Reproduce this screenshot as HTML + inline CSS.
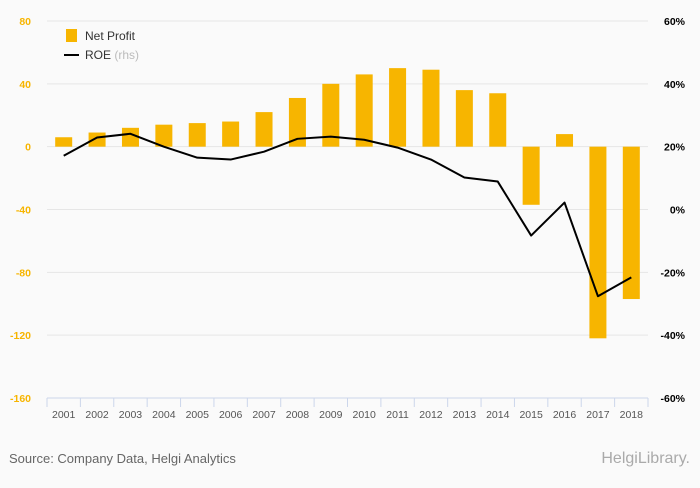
<!DOCTYPE html>
<html><head><meta charset="utf-8"><style>
body{margin:0;background:#fafafa;font-family:"Liberation Sans",sans-serif;}
svg text{font-family:"Liberation Sans",sans-serif;}
</style></head><body>
<svg width="700" height="483" id="chart">
<rect width="700" height="483" fill="#fafafa"/>
<g id="grid"></g>
<g id="bars"></g>
<g id="line"></g>
<g id="axes"></g>
<g>
<rect x="66" y="29" width="11" height="13" fill="#f7b500"/>
<text x="85" y="40" font-size="12" fill="#333">Net Profit</text>
<line x1="64" y1="55" x2="79" y2="55" stroke="#000" stroke-width="2"/>
<text x="85" y="59" font-size="12" fill="#333">ROE <tspan fill="#bbb">(rhs)</tspan></text>
</g>
<text x="9" y="463" font-size="13" fill="#666">Source: Company Data, Helgi Analytics</text>
<text x="690" y="463" font-size="16" fill="#aaa" text-anchor="end">HelgiLibrary.</text>
</svg>
<script>
const years=["2001","2002","2003","2004","2005","2006","2007","2008","2009","2010","2011","2012","2013","2014","2015","2016","2017","2018"];
const netProfit=[6,9,12,14,15,16,22,31,40,46,50,49,36,34,-37,8,-122,-97];
const roe=[17.1,22.9,24.1,20,16.5,15.9,18.4,22.5,23.2,22.2,19.7,15.9,10.2,8.9,-8.3,2.2,-27.6,-21.6];
const leftTicks=[80,40,0,-40,-80,-120,-160];
const rightTicks=[60,40,20,0,-20,-40,-60];
const NS="http://www.w3.org/2000/svg";
const x0=47,x1=648,yTop=21,yBot=398;
const band=(x1-x0)/years.length;
const yL=v=>yTop+(80-v)/240*(yBot-yTop);
const yR=v=>yTop+(60-v)/120*(yBot-yTop);
const xC=i=>x0+band*(i+0.5);
function mk(tag,attrs,parent){const e=document.createElementNS(NS,tag);for(const k in attrs)e.setAttribute(k,attrs[k]);document.getElementById(parent).appendChild(e);return e;}
leftTicks.forEach((t,i)=>{
  if(t>-160){const g=mk('line',{x1:x0,x2:x1,y1:yL(t),y2:yL(t),stroke:'#e6e6e6','stroke-width':1},'grid');
  
  }
  const l=mk('text',{x:31,y:yL(t)+4,'font-size':10.5,'font-weight':'bold',fill:'#f7b500','text-anchor':'end'},'axes');l.textContent=t;
  
  
});
rightTicks.forEach(t=>{
  const l=mk('text',{x:685,y:yR(t)+4,'font-size':10.5,'font-weight':'bold',fill:'#000','text-anchor':'end'},'axes');l.textContent=t+'%';
  
  
});
const bw=17;
netProfit.forEach((v,i)=>{
  const y=Math.min(yL(v),yL(0)),h=Math.abs(yL(v)-yL(0));
  const b=mk('rect',{x:xC(i)-bw/2,y:y,width:bw,height:h,fill:'#f7b500'},'bars');
  
  
});
const p=mk('polyline',{points:roe.map((v,i)=>xC(i)+','+yR(v)).join(' '),fill:'none',stroke:'#000','stroke-width':2,'stroke-linejoin':'round'},'line');


const ax=mk('line',{x1:x0,x2:x1,y1:yBot,y2:yBot,stroke:'#ccd6eb','stroke-width':1},'axes');


for(let i=0;i<=years.length;i++){
  const tk=mk('line',{x1:x0+band*i,x2:x0+band*i,y1:yBot,y2:yBot+9,stroke:'#ccd6eb'},'axes');
  
  
}
years.forEach((yr,i)=>{
  const l=mk('text',{x:xC(i),y:yBot+20,'font-size':10.5,fill:'#555','text-anchor':'middle'},'axes');l.textContent=yr;
  
  
});
</script>
</body></html>
